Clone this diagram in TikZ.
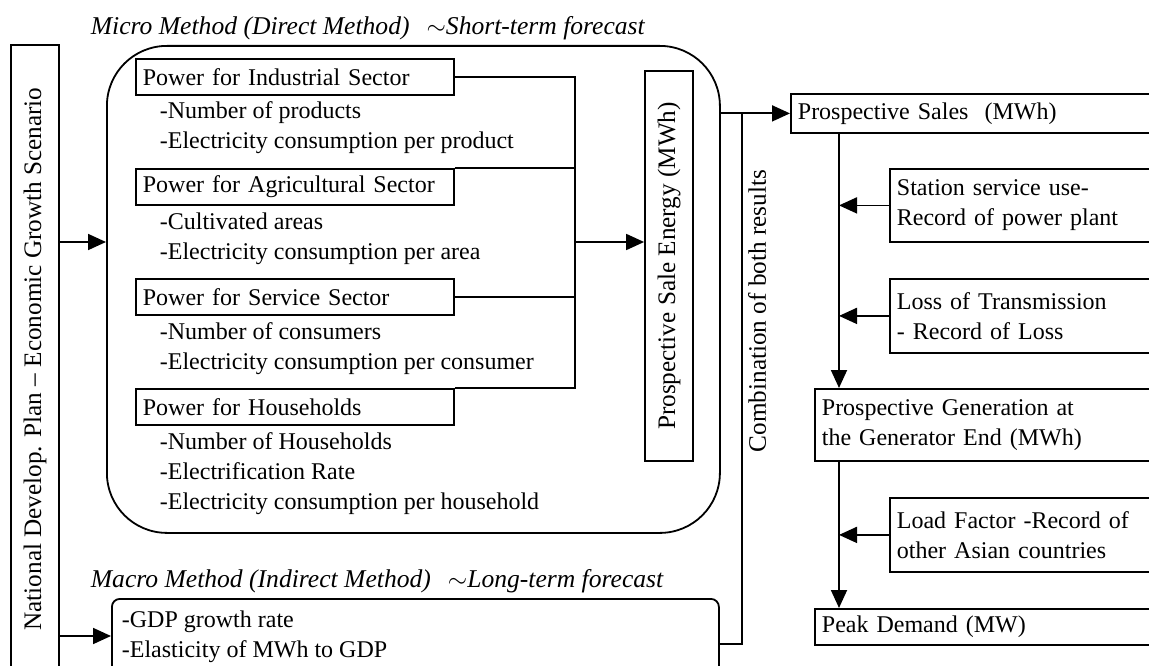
\documentclass[tikz,border=0pt]{standalone}
\usepackage{fontspec}
\setmainfont{Liberation Serif}
\usetikzlibrary{arrows.meta}

\begin{document}
\begin{tikzpicture}[x=1pt, y=-1pt, line width=1.8pt,
  txt/.style={font=\fontsize{24}{30}\selectfont},
  box/.style={txt, draw, line width=1.8pt, anchor=north west, align=left,
              inner xsep=7pt, inner ysep=0pt},
  vbox/.style={draw, line width=1.8pt, rotate=90, inner sep=0pt,
               font=\fontsize{25.2}{30}\selectfont},
  item/.style={txt, anchor=base west, inner sep=0pt},
  title/.style={anchor=base west, inner sep=0pt, font=\fontsize{25.6}{30}\selectfont\itshape},
  link/.style={line width=1.8pt},
  flow/.style={line width=1.8pt, -{Triangle[length=18pt,width=16pt]}}]

\useasboundingbox (0,0) rectangle (1149,666);
\clip (0,0) rectangle (1149,666);

\node[vbox, minimum width=628, minimum height=48] (nat) at (35,359)
  {National Develop. Plan -- Economic Growth Scenario};

\node[title] (microT) at (90,35)
  {Micro Method (Direct Method)\hspace{17pt}$\sim$Short-term forecast};
\node[draw, line width=1.8pt, rounded corners=60pt, anchor=north west,
      minimum width=613, minimum height=487, inner sep=0pt] (micro) at (106,45) {};

\node[box, text width=304, minimum height=36] (ind) at (135,58) {Power for Industrial Sector};
\node[item] (ind1) at (159,119) {-Number of products};
\node[item] (ind2) at (159,149) {-Electricity consumption per product};

\node[box, text width=304, minimum height=36] (agr) at (135,168) {Power for Agricultural Sector};
\node[item] (agr1) at (159,229) {-Cultivated areas};
\node[item] (agr2) at (159,259) {-Electricity consumption per area};

\node[box, text width=304, minimum height=36] (svc) at (135,278) {Power for Service Sector};
\node[item] (svc1) at (159,339) {-Number of consumers};
\node[item] (svc2) at (159,369) {-Electricity consumption per consumer};

\node[box, text width=304, minimum height=36] (hh) at (135,388) {Power for Households};
\node[item] (hh1) at (159,449) {-Number of Households};
\node[item] (hh2) at (159,479) {-Electrification Rate};
\node[item] (hh3) at (159,509) {-Electricity consumption per household};

\node[vbox, minimum width=390, minimum height=48] (sale) at (669,266)
  {Prospective Sale Energy (MWh)};

\node[title] (macroT) at (90,587)
  {Macro Method (Indirect Method)\hspace{17pt}$\sim$Long-term forecast};
\node[draw, line width=1.8pt, rounded corners=8pt, anchor=north west,
      minimum width=607, minimum height=100, inner sep=0pt] (macro) at (111,598) {};
\node[item] (mac1) at (121,627) {-GDP growth rate};
\node[item] (mac2) at (121,657) {-Elasticity of MWh to GDP};

\node[box, text width=356, minimum height=39] (ps) at (790,93) {Prospective Sales\ \ (MWh)};
\node[box, text width=257, minimum height=73] (stn) at (889,168)
  {Station service use-\\Record of power plant};
\node[box, text width=257, minimum height=74] (loss) at (889,278)
  {Loss of Transmission\\- Record of Loss};
\node[box, text width=332, minimum height=72] (gen) at (814,388)
  {Prospective Generation at\\the Generator End (MWh)};
\node[box, text width=257, minimum height=74] (load) at (889,497)
  {Load Factor -Record of\\other Asian countries};
\node[box, text width=332, minimum height=36] (peak) at (814,608) {Peak Demand (MW)};

\coordinate (bus) at (575,388);
\coordinate (comb) at (742,112.5);
\coordinate (spine) at (839,0);

\draw[flow] (nat.south |- 0,242) -- (micro.west |- 0,242);
\draw[flow] (nat.south |- 0,636) -- (macro.west |- 0,636);

\draw[link] (ind.east) -| (bus) -- (hh.north east);
\draw[link] (agr.north east) -- (agr.north east -| bus);
\draw[link] (svc.east) -- (svc.east -| bus);
\draw[flow] (bus |- 0,242) -- (sale.north |- 0,242);

\draw[flow] (micro.east |- ps.west) -- (ps.west);
\draw[link] (comb) |- (macro.east |- 0,644);
\node[rotate=90, inner sep=0pt, font=\fontsize{25.2}{30}\selectfont] (combT) at (757,311)
  {Combination of both results};

\draw[flow] (spine |- ps.south) -- (spine |- gen.north);
\draw[flow] (stn.west) -- (spine |- stn.west);
\draw[flow] (loss.west) -- (spine |- loss.west);
\draw[flow] (spine |- gen.south) -- (spine |- peak.north);
\draw[flow] (load.west) -- (spine |- load.west);
\end{tikzpicture}
\end{document}
